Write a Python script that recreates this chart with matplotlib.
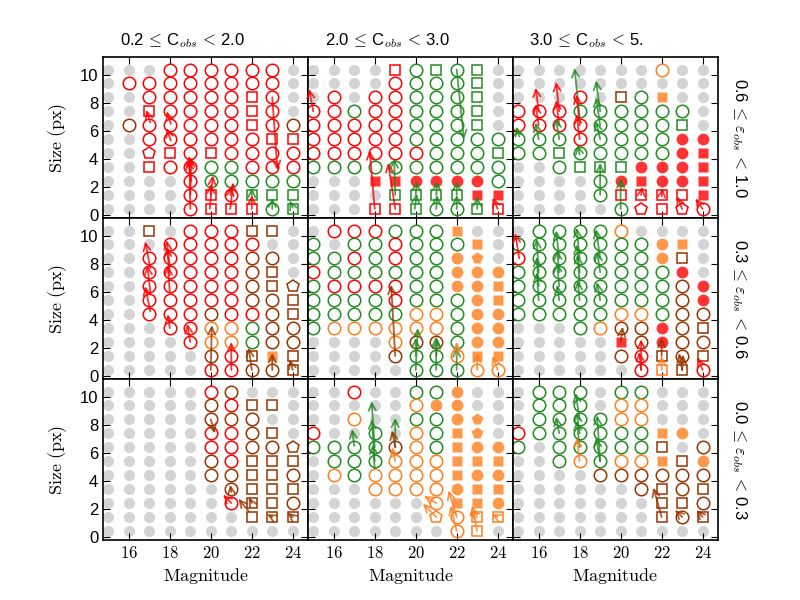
import numpy as np
import matplotlib
matplotlib.use('Agg')
import matplotlib.pyplot as plt

plt.rcParams['font.family'] = ['Liberation Sans', 'DejaVu Sans']
plt.rcParams['mathtext.fontset'] = 'cm'

# grid of the simulation: magnitude columns and size rows
mags = [15, 16, 17, 18, 19, 20, 21, 22, 23, 24]
sizes = [0.4, 1.4, 2.4, 3.4, 4.4, 5.4, 6.4, 7.4, 8.4, 9.4, 10.4]
size0 = 0.4

col_titles = [r'0.2$\,\leq\,$C$_{obs}$$\,<\,$2.0',
              r'2.0$\,\leq\,$C$_{obs}$$\,<\,$3.0',
              r'3.0$\,\leq\,$C$_{obs}$$\,<\,$5.']
row_titles = [r'0.6$\,\leq\,\varepsilon_{obs}\,<\,$1.0',
              r'0.3$\,\leq\,\varepsilon_{obs}\,<\,$0.6',
              r'0.0$\,\leq\,\varepsilon_{obs}\,<\,$0.3']

# cell codes: marker (o circle, s square, p pentagon; upper case = filled) + colour
# rows listed from size 10 down to size 0
p1 = [".. .. .. or or or or or or ..",
      ".. or or or or or or or or ..",
      ".. .. or or or or or sr or ..",
      ".. .. sr or or or or sr or ..",
      ".. ob or or or or or sr or ob",
      ".. .. or or or or or or sr sr",
      ".. .. pr sr or sr or or or or",
      ".. .. sr or or og og or or or",
      ".. .. .. .. or og og og og og",
      ".. .. .. .. or sr or sg sg sg",
      ".. .. .. .. or sr sr sr og sg"]
p2 = [".. .. .. .. sr og sg og sg ..",
      ".. .. .. .. or og og og sg ..",
      ".. or .. or or og og og sg ..",
      "or or og or or og og og sg ..",
      "or or or or or og og og sg ..",
      "or or or or or og og og og og",
      "or or or or or or og og og sg",
      "og og og og og og og og og og",
      ".. .. .. Sr Sr Or Or Or Or og",
      ".. .. .. .. sg sg sg sg Sr Sr",
      ".. .. .. sr sr sg og og sg sr"]
p3 = [".. .. .. .. .. .. .. oo .. ..",
      ".. .. .. .. .. .. .. .. .. ..",
      ".. .. .. or .. sb og So .. ..",
      "or or or og og og og og og ..",
      "or or or or og og og og sg ..",
      "og og og or og og og og Or Or",
      "og og sg og og og og og Or Sr",
      ".. .. og sg sg sg Or Or Or Sr",
      ".. .. .. .. og Or Sr Or Or Sr",
      ".. .. .. .. og sr sr sr sr Sr",
      ".. .. .. .. .. og pr sr pr or"]
p4 = [".. .. sb .. or or or sb sb ..",
      ".. .. .. or or or or or .. ..",
      ".. .. or or or or or ob ob ..",
      ".. .. or or or or or ob sb ..",
      ".. .. or or or or or ob sb pb",
      ".. .. or or or or or ob ob sb",
      ".. .. or or or ob or or ob sb",
      ".. .. .. or or oo oo og ob ob",
      ".. .. .. .. or oo oo og ob ob",
      ".. .. .. .. .. ob or sb So sb",
      ".. .. .. .. .. or or ob ob sb"]
p5 = [".. or or or og og og So .. ..",
      "og .. og og or og og og So ..",
      "og og or og or og og Oo Po ..",
      "or og og og og og og Oo Oo Oo",
      "og or or or or og og Oo Oo So",
      "og og og og or og og og Oo So",
      "og og og og og oo oo og Oo Oo",
      "og oo oo oo oo oo oo og Oo Oo",
      ".. .. .. .. oo ob ob og Oo Oo",
      ".. .. .. .. ob og og oo So So",
      ".. .. .. .. .. og og og oo oo"]
p6 = [".. og og og og oo .. .. .. ..",
      "og og og og og og og Oo So ..",
      "or og og og og og og Oo sb ..",
      "og og og og og og og og Or ..",
      "og og og og og og og og ob Or",
      "og og og og og og og og ob Or",
      "og og og og og oo oo og ob ob",
      ".. .. .. og oo ob ob Or ob sb",
      ".. .. .. .. .. Sr ob Or ob ob",
      ".. .. .. .. .. ob or sb ob sb",
      ".. .. .. .. .. .. or so sb or"]
p7 = [".. .. .. .. .. or ob .. .. ..",
      ".. .. .. .. .. ob or sb sb ..",
      ".. .. .. .. .. ob ob ob .. ..",
      ".. .. .. .. .. or or ob sb ..",
      ".. .. .. .. .. or or ob ob pb",
      ".. .. .. .. .. ob or sb sb sb",
      ".. .. .. .. .. ob ob sb sb ob",
      ".. .. .. .. .. .. ob sb sb sb",
      ".. .. .. .. .. .. or sb sb ob",
      ".. .. .. .. .. .. .. sb sb sb",
      ".. .. .. .. .. .. .. .. .. .."]
p8 = [".. .. or .. .. og og Oo .. ..",
      ".. .. .. .. .. oo Oo Oo .. ..",
      ".. .. oo .. .. og og Oo Po ..",
      "or .. .. og .. oo og So Po ..",
      "og og og og ob oo og So Oo Oo",
      ".. og og og oo oo oo So So So",
      ".. oo og oo oo oo oo So Oo Oo",
      ".. .. .. oo oo oo oo Oo So So",
      ".. .. .. .. .. .. oo So So Oo",
      ".. .. .. .. .. .. po oo so so",
      ".. .. .. .. .. .. .. oo so .."]
p9 = [".. og og og .. og og .. .. ..",
      ".. og og og .. oo oo .. .. ..",
      ".. og og og og oo oo .. .. ..",
      "or og og og og og og So Oo ..",
      "og .. og og og og og sb .. ob",
      ".. .. og oo og oo oo So sb Oo",
      ".. .. .. .. ob ob ob ob ob ob",
      ".. .. .. .. .. .. ob sb ob sb",
      ".. .. .. .. .. .. .. sb sb ob",
      ".. .. .. .. .. .. .. sb ob sb",
      ".. .. .. .. .. .. .. .. .. .."]

# arrows: colour, mag0, row0, mag1, row1 (rows in size-step units)
a1 = [('r', 17.05, 6.2, 16.85, 7.1), ('r', 18.05, 4.9, 17.85, 5.8),
      ('r', 18.05, 6.1, 17.85, 7.0), ('r', 19.0, 0.0, 18.95, 3.8),
      ('r', 19.0, 1.0, 19.05, 3.7), ('r', 19.05, 2.0, 18.9, 3.5),
      ('r', 19.95, 0.0, 20.1, 2.4), ('r', 20.0, 1.0, 20.0, 1.8),
      ('r', 20.95, 0.0, 21.1, 1.9), ('r', 20.95, 1.0, 21.0, 1.6),
      ('r', 22.0, 0.0, 22.0, 1.0), ('g', 22.0, 1.0, 22.0, 1.5),
      ('r', 23.0, 8.0, 23.25, 2.8), ('g', 23.0, 0.0, 23.0, 0.8),
      ('g', 24.0, 0.1, 23.85, 0.6)]
a2 = [('r', 15.0, 7.0, 14.8, 8.6), ('r', 18.0, 0.0, 17.75, 4.2),
      ('r', 19.0, 0.0, 18.65, 3.3), ('g', 19.0, 1.0, 18.95, 3.6),
      ('g', 22.0, 10.0, 22.35, 5.0), ('g', 19.95, 0.0, 20.05, 1.1),
      ('g', 20.0, 1.0, 20.05, 2.0), ('g', 21.0, 0.0, 21.05, 1.0),
      ('g', 21.0, 1.0, 21.05, 2.0), ('g', 22.0, 0.0, 22.0, 1.0),
      ('g', 22.0, 1.0, 22.0, 2.0), ('g', 23.0, 0.0, 23.0, 0.9),
      ('r', 24.0, 0.0, 23.75, 0.8)]
a3 = [('g', 15.05, 5.2, 14.9, 5.9), ('r', 16.0, 7.0, 15.85, 8.7),
      ('r', 16.0, 6.0, 15.85, 7.5), ('g', 16.0, 5.0, 15.85, 6.2),
      ('r', 17.0, 7.0, 16.85, 9.1), ('r', 17.0, 6.0, 16.85, 7.8),
      ('g', 17.0, 5.0, 16.85, 6.5), ('g', 18.0, 6.5, 17.75, 10.1),
      ('r', 18.0, 6.0, 17.85, 8.2), ('r', 18.0, 5.0, 17.85, 6.8),
      ('g', 18.0, 3.9, 17.9, 4.6), ('g', 19.0, 7.0, 18.8, 9.2),
      ('g', 19.0, 6.0, 18.8, 8.0), ('g', 19.0, 5.0, 18.8, 6.3),
      ('g', 19.0, 1.0, 19.0, 3.3), ('g', 20.0, 0.0, 20.0, 2.2),
      ('r', 21.0, 1.0, 21.05, 1.6), ('r', 22.0, 0.9, 22.05, 1.5),
      ('r', 23.0, 0.0, 22.75, 0.9), ('r', 24.0, 0.0, 23.65, 0.75)]
a4 = [('r', 17.05, 7.3, 16.8, 9.2), ('r', 17.05, 5.6, 16.9, 7.5),
      ('r', 17.05, 4.2, 16.8, 6.0), ('r', 18.0, 7.4, 17.85, 9.3),
      ('r', 18.0, 6.8, 17.85, 8.8), ('r', 18.0, 5.6, 17.9, 7.5),
      ('r', 18.0, 3.0, 17.9, 4.0), ('r', 19.0, 2.0, 18.85, 3.3),
      ('b', 20.0, 0.0, 20.05, 3.2), ('r', 21.0, 0.0, 21.0, 2.0),
      ('b', 22.0, 0.0, 21.85, 1.6), ('b', 23.0, 0.0, 23.0, 1.2),
      ('b', 24.0, 0.0, 23.85, 0.75)]
a5 = [('b', 19.0, 1.0, 18.8, 6.1), ('g', 20.0, 0.0, 20.1, 3.0),
      ('g', 20.0, 1.0, 20.0, 2.3), ('g', 21.0, 0.0, 21.0, 2.4),
      ('g', 21.0, 1.0, 21.05, 2.2), ('g', 22.0, 0.0, 22.0, 1.6),
      ('o', 22.0, 1.0, 22.0, 2.0), ('o', 23.0, 0.0, 23.0, 1.2),
      ('o', 24.0, 0.0, 23.75, 1.0)]
a6 = [('r', 15.05, 8.0, 14.85, 9.8), ('g', 16.0, 7.0, 15.9, 9.4),
      ('g', 16.0, 6.0, 15.9, 8.1), ('g', 16.0, 5.0, 15.9, 7.0),
      ('g', 17.0, 8.0, 16.85, 10.0), ('g', 17.0, 7.0, 16.9, 8.6),
      ('g', 17.0, 6.0, 16.9, 7.7), ('g', 17.0, 5.0, 16.9, 6.1),
      ('g', 18.0, 8.0, 17.85, 10.2), ('g', 18.0, 7.0, 17.85, 9.0),
      ('g', 18.0, 6.0, 17.9, 8.3), ('g', 18.0, 5.0, 17.9, 6.4),
      ('g', 19.0, 8.0, 18.8, 10.1), ('g', 19.0, 7.0, 18.85, 8.5),
      ('g', 19.0, 5.0, 18.85, 6.3), ('b', 20.0, 2.0, 20.1, 3.1),
      ('r', 21.0, 0.0, 21.0, 2.2), ('r', 21.0, 0.0, 20.9, 1.3),
      ('b', 22.0, 1.0, 22.0, 2.3), ('o', 22.0, 0.0, 22.0, 1.0),
      ('b', 23.0, 0.0, 22.85, 1.2), ('b', 23.0, 0.0, 23.05, 1.1),
      ('r', 24.0, 0.0, 23.75, 0.9)]
a7 = [('b', 20.0, 8.0, 20.2, 7.0), ('b', 21.0, 2.8, 20.95, 3.3),
      ('r', 21.0, 2.0, 20.6, 2.6), ('b', 21.85, 1.4, 21.35, 2.3),
      ('b', 22.0, 2.0, 21.85, 2.4), ('b', 23.0, 1.0, 22.75, 1.2),
      ('b', 24.0, 1.0, 23.75, 1.3)]
a8 = [('g', 17.0, 6.1, 16.9, 7.3), ('g', 18.0, 6.0, 17.85, 9.3),
      ('g', 18.0, 5.0, 17.85, 8.0), ('g', 18.0, 4.5, 17.9, 6.2),
      ('g', 19.0, 6.0, 19.0, 8.1), ('b', 19.0, 6.0, 18.85, 7.2),
      ('o', 19.0, 5.0, 18.85, 6.0), ('o', 21.0, 2.0, 20.4, 2.5),
      ('o', 21.0, 1.0, 20.35, 1.95), ('o', 22.0, 1.0, 21.6, 2.9),
      ('o', 22.0, 0.0, 21.7, 1.8), ('o', 23.0, 0.0, 22.75, 1.8),
      ('o', 23.0, 1.0, 22.6, 1.3), ('o', 24.0, 1.0, 23.7, 1.2)]
a9 = [('g', 17.0, 7.0, 16.85, 8.2), ('g', 18.0, 8.0, 17.8, 9.9),
      ('g', 18.0, 7.0, 17.85, 8.5), ('g', 18.0, 6.0, 17.85, 7.9),
      ('o', 18.0, 5.0, 17.85, 6.7), ('g', 19.0, 5.0, 18.85, 8.3),
      ('g', 19.0, 5.0, 18.8, 6.7), ('b', 22.0, 1.0, 21.6, 3.1),
      ('b', 23.0, 1.0, 22.65, 1.5), ('b', 24.0, 1.0, 23.7, 1.5)]

panels = [p1, p2, p3, p4, p5, p6, p7, p8, p9]
arrows = [a1, a2, a3, a4, a5, a6, a7, a8, a9]

colors = {'r': '#ff0000', 'g': '#228b22', 'o': '#ff7f1e', 'b': '#993300'}
msize = {'o': 9, 's': 7.5, 'p': 9}

fig, axs = plt.subplots(3, 3, figsize=(8, 6), dpi=100, sharex=True, sharey=True)
fig.subplots_adjust(left=0.129, right=0.8975, top=0.905, bottom=0.1,
                    wspace=0, hspace=0)

for k in range(9):
    ax = axs[k // 3, k % 3]
    grid = panels[k]
    for i, row in enumerate(grid):
        y = sizes[len(grid) - 1 - i]
        for j, tok in enumerate(row.split()):
            x = mags[j]
            if tok == '..':
                ax.plot(x, y, 'o', ms=8, color='#d4d4d4', mec='none', zorder=1)
                continue
            m, c = tok[0], colors[tok[1]]
            if m.isupper():
                ax.plot(x, y, m.lower(), ms=msize[m.lower()] - 0.5, color=c,
                        mec='none', alpha=0.8, zorder=2)
            else:
                ax.plot(x, y, m, ms=msize[m], mfc='none', mec=c, mew=1.1,
                        zorder=2)
    for c, x0, r0, x1, r1 in arrows[k]:
        ax.annotate('', xy=(x1, r1 + size0), xytext=(x0, r0 + size0),
                    arrowprops=dict(arrowstyle='->', color=colors[c], lw=1.3,
                                    alpha=0.8, shrinkA=0, shrinkB=0,
                                    mutation_scale=13), zorder=3)
    ax.set_xlim(14.75, 24.75)
    ax.set_ylim(-0.25, 11.3)
    ax.set_xticks([16, 18, 20, 22, 24])
    ax.set_xticklabels(['$16$', '$18$', '$20$', '$22$', '$24$'], fontsize=13)
    ax.set_yticks([0, 2, 4, 6, 8, 10])
    ax.tick_params(direction='in', top=True, right=True, length=5,
                   labelsize=12)
    for sp in ax.spines.values():
        sp.set_linewidth(1.2)

for j in range(3):
    axs[2, j].set_xlabel(r'$\mathrm{Magnitude}$', fontsize=13)
    axs[0, j].text(0.08, 1.1, col_titles[j], transform=axs[0, j].transAxes,
                   fontsize=12, ha='left', va='center')
for i in range(3):
    axs[i, 0].set_ylabel(r'$\mathrm{Size\ (px)}$', fontsize=13, labelpad=8)
    axs[i, 2].text(1.105, 0.5, row_titles[i], transform=axs[i, 2].transAxes,
                   fontsize=12, rotation=270, ha='center', va='center')

fig.savefig('out.png', dpi=100)
